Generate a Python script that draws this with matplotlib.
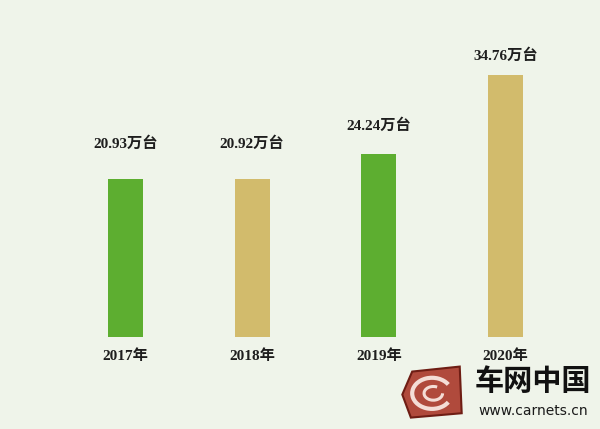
import matplotlib
matplotlib.use("Agg")
import matplotlib.pyplot as plt
from matplotlib.patches import Polygon, Arc

years = ["2017年", "2018年", "2019年", "2020年"]
values = [20.93, 20.92, 24.24, 34.76]
value_labels = ["20.93万台", "20.92万台", "24.24万台", "34.76万台"]

bar_colors = ["#5dae30", "#d2bb6c", "#5dae30", "#d2bb6c"]
label_offsets = [35, 35, 28, 19]  # pixels above bar top
bg = "#eff4ea"
font_fam = ["Liberation Serif", "Noto Sans CJK SC"]

fig = plt.figure(figsize=(6, 4.29), dpi=100, facecolor=bg)
ax = fig.add_axes([0, 0, 1, 1])
ax.set_facecolor(bg)
x = list(range(len(years)))
ax.bar(x, values, width=0.276, color=bar_colors)
ax.set_xlim(-0.991, 3.746)
ax.set_ylim(-12.19, 44.64)
ax.axis("off")

for xi, v, lab, off in zip(x, values, value_labels, label_offsets):
    ax.annotate(lab, (xi, v), xytext=(0, off * 0.72), textcoords="offset points",
                ha="center", va="center", fontsize=11, fontweight="semibold",
                family=font_fam, color="#1e1e1e")
for xi, yl in zip(x, years):
    ax.annotate(yl, (xi, 0), xytext=(0, -19 * 0.72), textcoords="offset points",
                ha="center", va="center", fontsize=11, fontweight="semibold",
                family=font_fam, color="#1e1e1e")

# watermark logo
fig.text(0.985, 0.112, "车网中国", ha="right", va="center", fontsize=21,
         fontweight="bold", family=["Noto Sans CJK SC"], color="#111111")
fig.text(0.98, 0.043, "www.carnets.cn", ha="right", va="center", fontsize=10,
         family=["DejaVu Sans"], color="#1a1a1a")
lax = fig.add_axes([0.665, 0.015, 0.11, 0.145])
lax.set_xlim(0, 1); lax.set_ylim(0, 1); lax.axis("off")
lax.add_patch(Polygon([(0.18, 0.08), (0.95, 0.15), (0.92, 0.9), (0.2, 0.82), (0.05, 0.45)],
                      closed=True, fc="#b04a3c", ec="#6e1d14", lw=1.5))
lax.add_patch(Arc((0.5, 0.47), 0.6, 0.5, theta1=30, theta2=330, color="#f4ddd6", lw=3))
lax.add_patch(Arc((0.52, 0.47), 0.28, 0.22, theta1=60, theta2=360, color="#f4ddd6", lw=2.2))

fig.savefig("out.png", dpi=100, facecolor=bg)
